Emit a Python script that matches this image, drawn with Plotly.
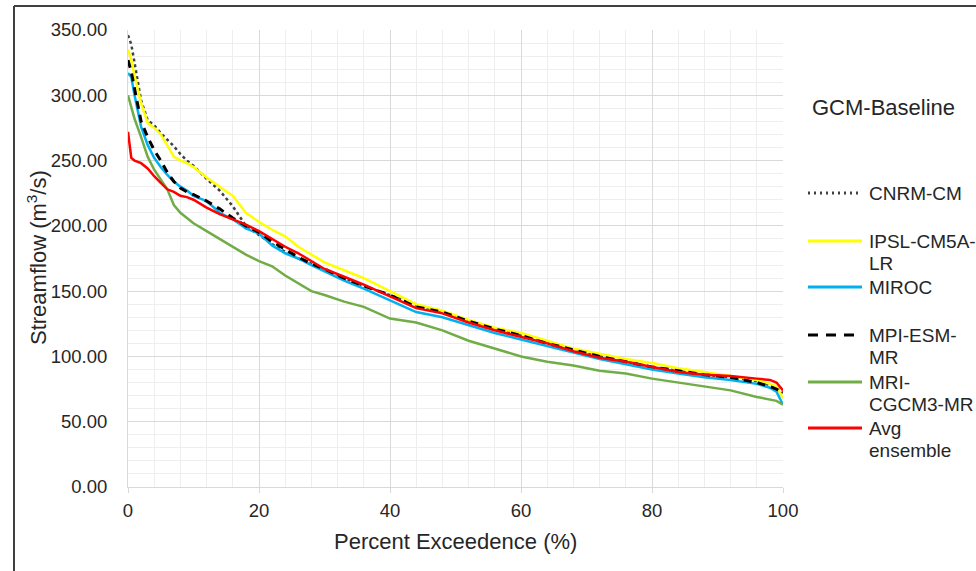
import plotly.graph_objects as go

# ---- data ----
exceedance = [0, 0.5, 1, 2, 3, 4, 5, 6, 7, 8, 9, 10, 12, 14, 16, 18, 20, 22, 24, 26, 28, 30,
              33, 36, 40, 44, 48, 52, 56, 60, 64, 68, 72, 76, 80, 84, 88, 92, 96, 98, 99, 100]

cnrm_cm = [346, 339, 325, 296, 281, 277, 271, 266, 261, 255, 250, 246, 236, 227, 215, 200, 193, 186,
           180, 175, 171, 166, 160, 154, 147, 139, 134, 127, 121, 116, 111, 105, 100, 96, 92, 89,
           86, 84, 81, 78, 76, 72]
ipsl_cm5a_lr = [335, 327, 315, 294, 279, 275, 270, 261, 253, 250, 248, 245, 237, 230, 223, 210, 203,
                197, 192, 184, 178, 172, 166, 160, 150, 140, 135, 128, 122, 118, 112, 106, 102, 98,
                95, 91, 88, 85, 82, 79, 77, 68]
miroc = [317, 314, 300, 276, 262, 252, 245, 239, 234, 230, 227, 223, 219, 210, 205, 198, 194, 185,
         179, 175, 170, 165, 158, 152, 143, 134, 130, 124, 118, 113, 108, 103, 98, 94, 90, 87, 84,
         82, 79, 76, 73, 63]
mpi_esm_mr = [327, 318, 305, 280, 268, 258, 250, 241, 234, 229, 226, 224, 219, 213, 206, 200, 195,
              188, 182, 176, 171, 167, 160, 154, 147, 138, 134, 127, 121, 116, 110, 105, 100, 96,
              92, 89, 86, 84, 80, 77, 75, 72]
mri_cgcm3_mr = [300, 290, 282, 268, 253, 243, 235, 228, 216, 210, 206, 202, 196, 190, 184, 178, 173,
                169, 162, 156, 150, 147, 142, 138, 129, 126, 120, 112, 106, 100, 96, 93, 89, 87,
                83, 80, 77, 74, 69, 67, 66, 63]
avg_ensemble = [272, 252, 250, 248, 244, 238, 233, 228, 226, 223, 222, 220, 214, 209, 205, 201, 196,
                190, 184, 179, 173, 167, 161, 155, 146, 137, 133, 126, 120, 115, 110, 104, 99, 96,
                92, 88, 86, 85, 83, 82, 80, 74]

series_names = ["CNRM-CM", "IPSL-CM5A-LR", "MIROC", "MPI-ESM-MR", "MRI-CGCM3-MR", "Avg ensemble"]
legend_labels = [["CNRM-CM"], ["IPSL-CM5A-", "LR"], ["MIROC"], ["MPI-ESM-", "MR"],
                 ["MRI-", "CGCM3-MR"], ["Avg", "ensemble"]]
series_values = [cnrm_cm, ipsl_cm5a_lr, miroc, mpi_esm_mr, mri_cgcm3_mr, avg_ensemble]

# ---- styles ----
styles = [
    dict(color="#404040", width=2.5, dash="dot"),
    dict(color="#FFFF00", width=2.5, dash="solid"),
    dict(color="#00B0F0", width=2.5, dash="solid"),
    dict(color="#000000", width=3, dash="8px,6px"),
    dict(color="#70AD47", width=2.5, dash="solid"),
    dict(color="#FF0000", width=2.5, dash="solid"),
]

W, H = 976, 571
L, R, T, B = 128, 193, 30, 84
PW, PH = W - L - R, H - T - B
FONT = "Liberation Sans, Arial, sans-serif"
TXT = "#262626"


def px(xp):
    return (xp - L) / PW


def py(yp):
    return (H - B - yp) / PH


fig = go.Figure()
for name, vals, st in zip(series_names, series_values, styles):
    fig.add_trace(go.Scatter(x=exceedance, y=vals, mode="lines", name=name,
                             line=dict(color=st["color"], width=st["width"], dash=st["dash"]),
                             showlegend=False))

shapes = []
annotations = []

# outer frame (left and top)
shapes.append(dict(type="line", xref="paper", yref="paper", x0=px(14), x1=px(14), y0=py(6), y1=py(575),
                   line=dict(color="#404040", width=2)))
shapes.append(dict(type="line", xref="paper", yref="paper", x0=px(14), x1=px(980), y0=py(6), y1=py(6),
                   line=dict(color="#404040", width=2)))

# legend (manual)
annotations.append(dict(text="GCM-Baseline", xref="paper", yref="paper", x=px(883), y=py(108),
                        xanchor="center", yanchor="middle", showarrow=False,
                        font=dict(family=FONT, size=22, color=TXT)))
legend_y = [193, 241, 287, 335, 382, 428]
line_gap = 22
for labels, st, ly in zip(legend_labels, styles, legend_y):
    dash = st["dash"]
    if dash == "dot":
        dash = "2px,4px"
    elif dash != "solid":
        dash = "10px,8px"
    shapes.append(dict(type="line", xref="paper", yref="paper", x0=px(808), x1=px(862),
                       y0=py(ly), y1=py(ly),
                       line=dict(color=st["color"], width=3, dash=dash)))
    for i, lab in enumerate(labels):
        annotations.append(dict(text=lab, xref="paper", yref="paper", x=px(867), y=py(ly + i * line_gap),
                                xanchor="left", yanchor="middle", showarrow=False,
                                font=dict(family=FONT, size=19, color=TXT)))

# axis titles
annotations.append(dict(text="Percent Exceedence (%)", xref="paper", yref="paper", x=px(455), y=py(541),
                        xanchor="center", yanchor="middle", showarrow=False,
                        font=dict(family=FONT, size=22, color=TXT)))
annotations.append(dict(text="Streamflow (m<sup>3</sup>/s)", xref="paper", yref="paper", x=px(37),
                        y=py(258), xanchor="center", yanchor="middle", showarrow=False, textangle=-90,
                        font=dict(family=FONT, size=22, color=TXT)))

fig.update_layout(
    width=W, height=H,
    margin=dict(l=L, r=R, t=T, b=B, pad=0),
    paper_bgcolor="white", plot_bgcolor="white",
    font=dict(family=FONT, color=TXT),
    shapes=shapes, annotations=annotations,
    showlegend=False,
)
fig.update_xaxes(range=[0, 100], dtick=20, tick0=0, showgrid=True, gridcolor="#d9d9d9", gridwidth=1,
                 minor=dict(dtick=4, showgrid=True, gridcolor="#eeeeee", gridwidth=1),
                 showline=True, linecolor="#d9d9d9", linewidth=1, zeroline=False,
                 ticks="outside", ticklen=5, tickcolor="#d9d9d9", ticklabelstandoff=2,
                 tickfont=dict(family=FONT, size=18.5, color=TXT))
fig.update_yaxes(range=[0, 350], dtick=50, tick0=0, tickformat=".2f", showgrid=True, gridcolor="#d9d9d9",
                 gridwidth=1, minor=dict(dtick=10, showgrid=True, gridcolor="#eeeeee", gridwidth=1),
                 showline=True, linecolor="#d9d9d9", linewidth=1, zeroline=False,
                 ticks="", ticklabelstandoff=16,
                 tickfont=dict(family=FONT, size=18.5, color=TXT))

fig.write_html("out.html")
